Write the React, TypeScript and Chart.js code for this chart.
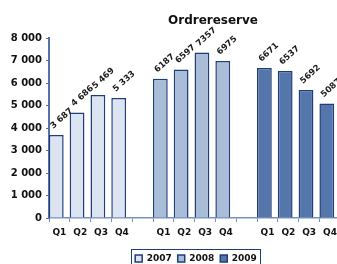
import React, { useEffect, useRef } from "react";
import { Chart, registerables } from "chart.js";

Chart.register(...registerables);

// ---- data ----
const categories = ["Q1", "Q2", "Q3", "Q4", "", "Q1", "Q2", "Q3", "Q4", "", "Q1", "Q2", "Q3", "Q4", "", ""];
const years = ["2007", "2008", "2009"];
const yearStart = [0, 5, 10];
const values2007 = [3687, 4686, 5469, 5333];
const values2008 = [6187, 6597, 7357, 6975];
const values2009 = [6671, 6537, 5692, 5087];
const labels2007 = ["3 687", "4 686", "5 469", "5 333"];
const labels2008 = ["6187", "6597", "7357", "6975"];
const labels2009 = ["6671", "6537", "5692", "5087"];
const yMin = 0;
const yMax = 8000;
const yStep = 1000;

const fills = ["#dce4f1", "#a9bcd8", "#5576aa"];
const edge = "#1f3d78";
const FONT = '"DejaVu Sans", Verdana, sans-serif';

const seriesValues = [values2007, values2008, values2009];
const seriesLabels = [labels2007, labels2008, labels2009];

const spread = (vals: number[], start: number) =>
  categories.map((_, i) => (i >= start && i < start + vals.length ? vals[i - start] : null));

const fmt = (v: number) => String(v).replace(/\B(?=(\d{3})+(?!\d))/g, " ");

const decor = {
  id: "decor",
  afterDatasetsDraw(chart: any) {
    const ctx = chart.ctx;
    ctx.save();
    ctx.fillStyle = "#1a1a1a";
    ctx.font = `bold 8.5px ${FONT}`;
    ctx.textAlign = "left";
    ctx.textBaseline = "alphabetic";
    years.forEach((_, d) => {
      const meta = chart.getDatasetMeta(d);
      const start = yearStart[d];
      seriesLabels[d].forEach((txt, k) => {
        const el = meta.data[start + k];
        if (!el) return;
        ctx.save();
        ctx.translate(el.x - 3, el.y - 6);
        ctx.rotate((-42 * Math.PI) / 180);
        ctx.fillText(txt, 0, 0);
        ctx.restore();
      });
    });
    ctx.restore();
  },
  afterDraw(chart: any) {
    const ctx = chart.ctx;
    ctx.save();
    // title
    ctx.fillStyle = "#111";
    ctx.font = `bold 12px ${FONT}`;
    ctx.textAlign = "center";
    ctx.textBaseline = "middle";
    ctx.fillText("Ordrereserve", 213, 20.5);
    // legend frame
    const lg = chart.legend;
    if (lg && lg.legendHitBoxes && lg.legendHitBoxes.length) {
      const boxes = lg.legendHitBoxes;
      const l = Math.min(...boxes.map((b: any) => b.left)) - 4;
      const r = Math.max(...boxes.map((b: any) => b.left + b.width)) + 3;
      ctx.strokeStyle = edge;
      ctx.lineWidth = 1;
      ctx.strokeRect(Math.round(l) + 0.5, 249.5, Math.round(r - l), 30);
    }
    ctx.restore();
  },
};

export default function App() {
  const ref = useRef<HTMLCanvasElement | null>(null);

  useEffect(() => {
    if (!ref.current) return;
    const datasets: any[] = years.map((y, d) => ({
      label: y,
      data: spread(seriesValues[d], yearStart[d]),
      backgroundColor: fills[d],
      borderColor: edge,
      borderWidth: 1.5,
      stack: "main",
      categoryPercentage: 0.605,
      barPercentage: 2.35,
    }));
    datasets.push({
      label: "",
      data: categories.map(() => null),
      backgroundColor: "rgba(0,0,0,0)",
      borderWidth: 0,
      stack: "pad",
      categoryPercentage: 0.605,
      barPercentage: 2.35,
    });

    const chart = new Chart(ref.current, {
      type: "bar",
      data: { labels: categories, datasets },
      plugins: [decor],
      options: {
        animation: false,
        responsive: false,
        layout: { padding: { left: 10, right: 18, top: 38, bottom: 3 } },
        plugins: {
          title: { display: false },
          tooltip: { enabled: false },
          legend: {
            position: "bottom",
            labels: {
              boxWidth: 7,
              boxHeight: 7,
              padding: 6,
              color: "#111",
              font: { family: FONT, size: 9, weight: "bold" },
              filter: (item: any) => item.text !== "",
            },
          },
        },
        scales: {
          x: {
            stacked: true,
            offset: true,
            afterFit: (s: any) => {
              s.height = 30;
            },
            grid: {
              offset: true,
              drawOnChartArea: false,
              drawTicks: true,
              tickLength: 4,
              color: "#7892bf",
              lineWidth: 1,
            },
            border: { color: "#7892bf", width: 1.5 },
            ticks: {
              autoSkip: false,
              maxRotation: 0,
              padding: 5,
              color: "#111",
              font: { family: FONT, size: 9, weight: "bold" },
            },
          },
          y: {
            stacked: true,
            min: yMin,
            max: yMax,
            afterFit: (s: any) => {
              s.width = 39;
            },
            grid: {
              drawOnChartArea: false,
              drawTicks: true,
              tickLength: 3,
              color: "#5573a8",
              lineWidth: 1,
            },
            border: { color: "#5573a8", width: 2 },
            ticks: {
              stepSize: yStep,
              padding: 4,
              color: "#111",
              font: { family: FONT, size: 10, weight: "bold" },
              callback: (v: any) => fmt(Number(v)),
            },
          },
        },
      },
    });
    return () => chart.destroy();
  }, []);

  return (
    <div
      style={{
        position: "fixed",
        left: 0,
        top: 0,
        width: 337,
        height: 264,
        overflow: "hidden",
        background: "#fff",
      }}
    >
      <canvas ref={ref} width={400} height={276} style={{ display: "block" }} />
    </div>
  );
}
